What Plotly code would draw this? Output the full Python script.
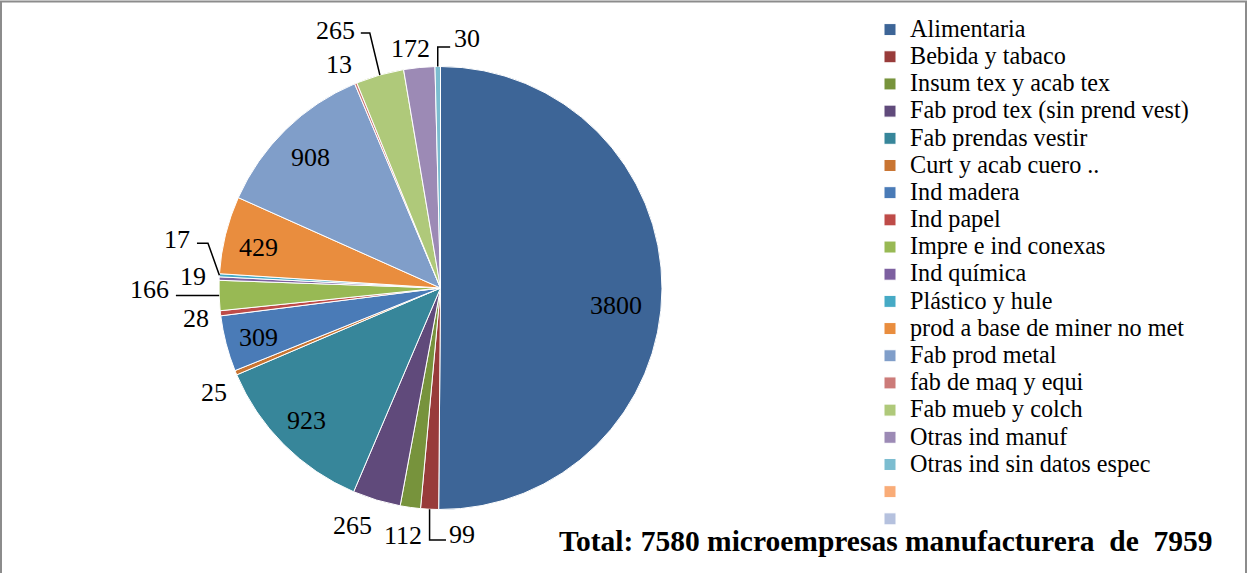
import math
import plotly.graph_objects as go

# ---------------- data ----------------
categories = [
    "Alimentaria", "Bebida y tabaco", "Insum tex y acab tex",
    "Fab prod tex (sin prend vest)", "Fab prendas vestir", "Curt y acab cuero ..",
    "Ind madera", "Ind papel", "Impre e ind conexas", "Ind química",
    "Plástico y hule", "prod a base de miner no met", "Fab prod metal",
    "fab de maq y equi", "Fab mueb y colch", "Otras ind manuf",
    "Otras ind sin datos espec", " ", "  ",
]
values = [3800, 99, 112, 265, 923, 25, 309, 28, 166, 19, 17, 429, 908, 13, 265, 172, 30, 0, 0]
total_text = "Total: 7580 microempresas manufacturera  de  7959"

# ---------------- styles ----------------
colors = [
    "#3D6597", "#983B3A", "#77933C", "#604A7B", "#37869A", "#C97532",
    "#4A7BB7", "#BE4B48", "#98B954", "#7D60A0", "#46AAC5", "#E98D3E",
    "#809EC9", "#CC7B79", "#AFC97A", "#9C8AB5", "#7CBDD0", "#F9AC78", "#B5C1DE",
]
# label placement: (radius factor, angle shift in degrees) per slice
label_place = [
    (0.796, 5.6), (1.119, -7.8), (1.132, 0.8), (1.141, 3.5), (0.848, 0.3),
    (1.125, -2.2), (0.853, -0.5), (1.112, -0.45), (1.312, 1.6), (1.118, 0.1),
    (1.21, 7.2), (0.843, -1.5), (0.832, -0.5), (1.110, -1.9), (1.257, -6.2),
    (1.092, -1.7), (1.135, 6.8),
]
FONT = "Liberation Serif, Times New Roman, serif"
W, H = 1248, 573
cx, cy, R = 440.5, 288.0, 221.5


def px(x):
    return x / W


def py(y):
    return 1 - y / H


legend_labels = ['<span style="font-size:24.2px">%s</span>' % c for c in categories]

fig = go.Figure(go.Pie(
    labels=legend_labels,
    values=values,
    sort=False,
    direction="clockwise",
    rotation=0,
    textinfo="none",
    hoverinfo="label+value",
    marker=dict(colors=colors, line=dict(color="white", width=1)),
    domain=dict(x=[px(cx - R), px(cx + R)], y=[py(cy + R), py(cy - R)]),
))

total = sum(values)
annotations = []
shapes = []
mids = []
cum = 0
for v in values:
    mids.append((cum + v / 2) / total * 360)
    cum += v


def pol(theta, rf):
    t = math.radians(theta)
    return cx + rf * R * math.sin(t), cy - rf * R * math.cos(t)


label_xy = {}
for i, v in enumerate(values):
    if v <= 0:
        continue
    rf, dt = label_place[i]
    x, y = pol(mids[i] + dt, rf)
    label_xy[i] = (x, y)
    annotations.append(dict(
        x=px(x), y=py(y), xref="paper", yref="paper", text=str(v),
        showarrow=False, xanchor="center", yanchor="middle",
        font=dict(family=FONT, size=26, color="black"),
    ))


def path(points):
    return "M " + " L ".join("%.5f,%.5f" % (px(a), py(b)) for a, b in points)


def edge(i):
    return pol(mids[i], 1.0)


leaders = []
# 99
e = edge(1); tx, ty = label_xy[1]
leaders.append([e, (e[0], ty + 5), (tx - 16, ty + 5)])
# 166
e = edge(8); tx, ty = label_xy[8]
leaders.append([e, (tx + 26, e[1])])
# 17
e = edge(10); tx, ty = label_xy[10]
leaders.append([(tx + 20, ty + 4), (tx + 31, ty + 4), e])
# 265 (top)
e = edge(14); tx, ty = label_xy[14]
leaders.append([(tx + 25, ty + 3), (tx + 34, ty + 3), e])
# 30
e = edge(16); tx, ty = label_xy[16]
leaders.append([e, (e[0], ty + 9), (tx - 17, ty + 9)])

for pts in leaders:
    shapes.append(dict(type="path", xref="paper", yref="paper", path=path(pts),
                       line=dict(color="black", width=1.5)))

# outer frame
shapes.append(dict(type="rect", xref="paper", yref="paper",
                   x0=px(1), x1=px(W - 2), y0=-0.02, y1=py(1.5),
                   line=dict(color="#8C8C8C", width=2)))

annotations.append(dict(
    x=px(886), y=py(541), xref="paper", yref="paper",
    text="<b>" + total_text.replace("  ", "\u00a0 ") + "</b>",
    showarrow=False, xanchor="center", yanchor="middle",
    font=dict(family=FONT, size=29.5, color="black"),
))

fig.update_layout(
    width=W, height=H,
    margin=dict(l=0, r=0, t=0, b=0),
    paper_bgcolor="white", plot_bgcolor="white",
    font=dict(family=FONT, color="black"),
    showlegend=True,
    legend=dict(
        x=px(870), y=py(11), xanchor="left", yanchor="top",
        font=dict(family=FONT, size=18.6, color="black"),
        bgcolor="rgba(0,0,0,0)", borderwidth=0,
    ),
    annotations=annotations,
    shapes=shapes,
)

fig.write_html(
    "out.html",
    config={"displayModeBar": False},
    post_script="document.body.style.margin='0';document.body.style.overflow='hidden';",
)
